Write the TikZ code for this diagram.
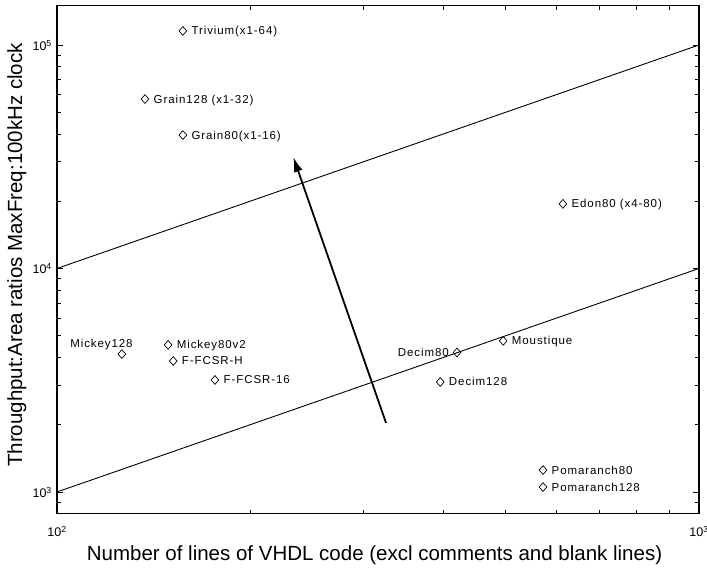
\documentclass[tikz,border=0pt]{standalone}
\usepackage{fontspec}
\setmainfont{Liberation Sans}
\newfontfamily\ptfont[LetterSpace=8]{Liberation Sans}
\usetikzlibrary{shapes.geometric,arrows.meta}

\begin{document}
\begin{tikzpicture}[x=642pt, y=223.5pt,
	dmd/.style={draw, shape=diamond, inner sep=0pt, minimum width=8pt, minimum height=9pt, line width=0.7pt},
	ptlab/.style={anchor=base west, inner sep=0pt, font=\ptfont\fontsize{11.5}{13}\selectfont},
	ticklab/.style={inner sep=0pt, font=\fontsize{12.5}{14}\selectfont},
	tick/.style={line width=0.8pt}]
	\useasboundingbox (1.9112,2.6555) rectangle (3.0125,5.2013);
	% axes box, ticks (x: 10^2..10^3, y: 800..1.5e5)
	\draw[line width=1.2pt] (2,2.903) rectangle (3,5.176);
	\foreach \k in {2,...,9} {
		\draw[tick] ({2+log10(\k)},2.903) -- ++(0,4pt);
		\draw[tick] ({2+log10(\k)},5.176) -- ++(0,-4pt);
	}
	\foreach \d in {3,4} \foreach \k in {2,...,9} {
		\draw[tick] (2,{\d+log10(\k)}) -- ++(4pt,0);
		\draw[tick] (3,{\d+log10(\k)}) -- ++(-4pt,0);
	}
	\draw[tick] (2,2.954) -- ++(4pt,0);
	\draw[tick] (3,2.954) -- ++(-4pt,0);
	\foreach \d in {3,4,5} {
		\draw[tick] (2,\d) -- ++(6pt,0);
		\draw[tick] (3,\d) -- ++(-6pt,0);
		\node[ticklab, anchor=base east] (ylab\d) at ([xshift=-5pt,yshift=-5.5pt]2,\d) {10\textsuperscript{\d}};
	}
	\node[ticklab, anchor=base] (xlab2) at ([yshift=-23pt]2,2.903) {10\textsuperscript{2}};
	\node[ticklab, anchor=base] (xlab3) at ([yshift=-23pt]3,2.903) {10\textsuperscript{3}};
	\node[font=\fontsize{20.5}{24}\selectfont, anchor=base] (xtitle) at (2.4946,2.6913)
		{Number of lines of VHDL code (excl comments and blank lines)};
	\node[font=\fontsize{20.5}{24}\selectfont, anchor=base, rotate=90] (ytitle) at (1.9455,4.0604)
		{Throughput:Area ratios MaxFreq:100kHz clock};
	% reference lines
	\coordinate (loA) at (2,3);
	\coordinate (loB) at (3,4);
	\coordinate (hiA) at (2,4);
	\coordinate (hiB) at (3,5);
	\draw[line width=0.9pt] (loA) -- (loB);
	\draw[line width=0.9pt] (hiA) -- (hiB);
	% the points
	\node[dmd] (trivium) at (2.196,5.063) {};
	\node[ptlab] (trivium-l) at ([xshift=8.5pt,yshift=-4pt]trivium) {Trivium(x1-64)};
	\node[dmd] (grain128) at (2.137,4.758) {};
	\node[ptlab] (grain128-l) at ([xshift=8.5pt,yshift=-4pt]grain128) {Grain128 (x1-32)};
	\node[dmd] (grain80) at (2.196,4.597) {};
	\node[ptlab] (grain80-l) at ([xshift=8.5pt,yshift=-4pt]grain80) {Grain80(x1-16)};
	\node[dmd] (edon80) at (2.788,4.289) {};
	\node[ptlab] (edon80-l) at ([xshift=8.5pt,yshift=-4pt]edon80) {Edon80 (x4-80)};
	\node[dmd] (mickey128) at (2.101,3.617) {};
	\node[ptlab, anchor=base east] (mickey128-l) at ([xshift=11pt,yshift=7pt]mickey128) {Mickey128};
	\node[dmd] (mickey80) at (2.173,3.658) {};
	\node[ptlab] (mickey80-l) at ([xshift=8.5pt,yshift=-4pt]mickey80) {Mickey80v2};
	\node[dmd] (ffcsrh) at (2.181,3.586) {};
	\node[ptlab] (ffcsrh-l) at ([xshift=8.5pt,yshift=-4pt]ffcsrh) {F-FCSR-H};
	\node[dmd] (ffcsr16) at (2.246,3.501) {};
	\node[ptlab] (ffcsr16-l) at ([xshift=8.5pt,yshift=-4pt]ffcsr16) {F-FCSR-16};
	\node[dmd] (decim80) at (2.623,3.624) {};
	\node[ptlab, anchor=base east] (decim80-l) at ([xshift=-8pt,yshift=-4pt]decim80) {Decim80};
	\node[dmd] (moustique) at (2.695,3.676) {};
	\node[ptlab] (moustique-l) at ([xshift=8.5pt,yshift=-4pt]moustique) {Moustique};
	\node[dmd] (decim128) at (2.597,3.492) {};
	\node[ptlab] (decim128-l) at ([xshift=8.5pt,yshift=-4pt]decim128) {Decim128};
	\node[dmd] (pom80) at (2.757,3.098) {};
	\node[ptlab] (pom80-l) at ([xshift=8.5pt,yshift=-4pt]pom80) {Pomaranch80};
	\node[dmd] (pom128) at (2.757,3.022) {};
	\node[ptlab] (pom128-l) at ([xshift=8.5pt,yshift=-4pt]pom128) {Pomaranch128};
	% trend arrow
	\coordinate (arrtail) at (2.5125,3.309);
	\coordinate (arrtip) at (2.368,4.499);
	\draw[line width=1.8pt, -{Latex[length=15pt,width=9pt]}] (arrtail) -- (arrtip);
\end{tikzpicture}
\end{document}
